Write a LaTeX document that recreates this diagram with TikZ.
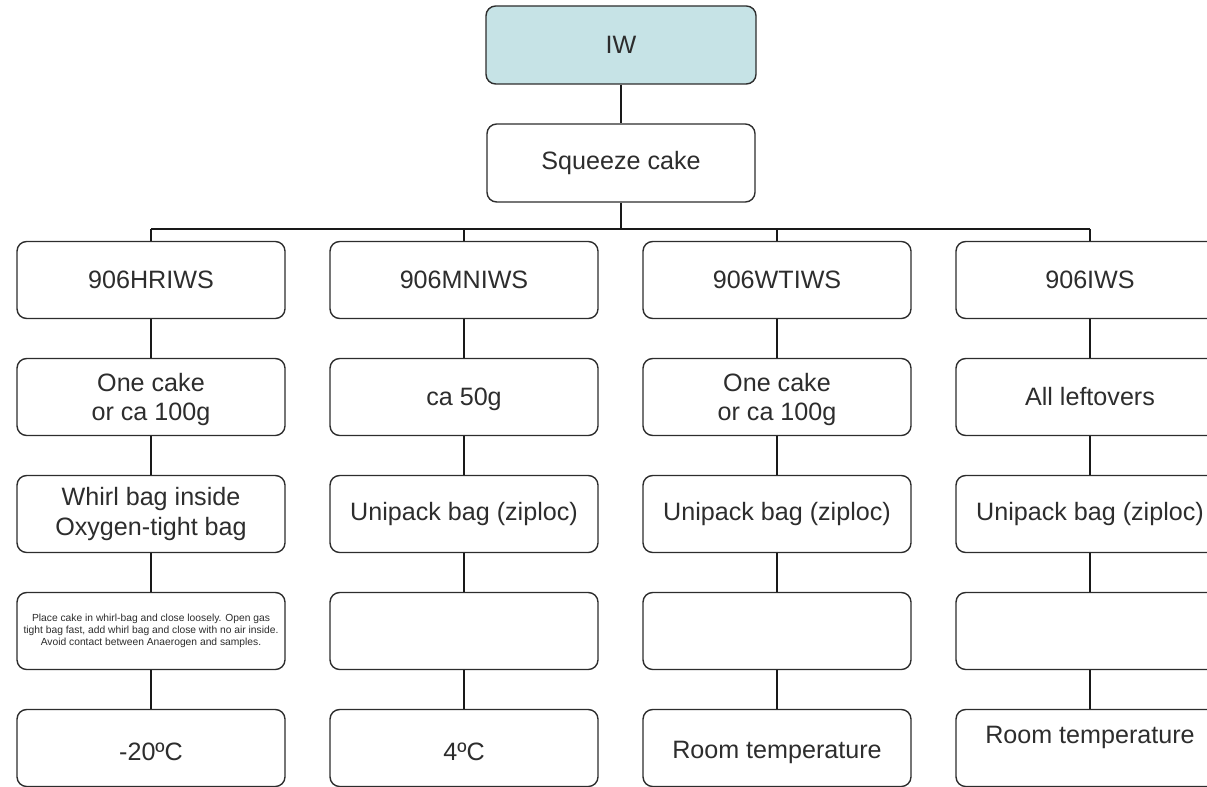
\documentclass[tikz,border=0pt]{standalone}
\usepackage{fontspec}
\setmainfont{Liberation Sans}
\definecolor{iwteal}{RGB}{198,227,230}
\definecolor{inkgray}{RGB}{45,45,45}
\tikzset{
  box/.style={draw=inkgray, line width=0.8pt, rounded corners=5.5pt, fill=white, text=inkgray,
    minimum width=5.36cm, minimum height=1.54cm, inner sep=1pt, align=center,
    font=\fontsize{14.3}{17}\selectfont},
  link/.style={line width=1.1pt, black!90}
}
\begin{document}
\begin{tikzpicture}[line join=round]
  \useasboundingbox (0,0) rectangle (24.14,-15.74);
  \clip (0,0) rectangle (24.14,-15.74);
  \node[box, fill=iwteal, minimum width=5.4cm, minimum height=1.56cm] (iw) at (12.42,-0.9) {IW};
  \node[box, minimum width=5.36cm, minimum height=1.56cm] (squeeze) at (12.42,-3.26) {Squeeze cake};
  \coordinate (bus) at (12.42,-4.58);
  \foreach \c/\head/\qty/\pack/\temp in {
    1/{906HRIWS}/{One cake\\or ca 100g}/{Whirl bag inside\\Oxygen-tight bag}/{-20ºC},
    2/{906MNIWS}/{ca 50g}/{Unipack bag (ziploc)}/{4ºC},
    3/{906WTIWS}/{One cake\\or ca 100g}/{Unipack bag (ziploc)}/{Room temperature},
    4/{906IWS}/{All leftovers}/{Unipack bag (ziploc)}/{Room temperature}} {
    \pgfmathsetmacro{\x}{3.02+6.26*(\c-1)}
    \def\note{}
    \def\notefont{\fontsize{14.3}{17}\selectfont}
    \ifnum\c=1
    \def\note{Place cake in whirl-bag and close loosely. Open gas\\tight bag fast, add whirl bag and close with no air inside.\\Avoid contact between Anaerogen and samples.}
    \def\notefont{\fontsize{5.85}{6.65}\selectfont}
    \fi
    \def\lift{-0.08cm}
    \ifnum\c=4 \def\lift{0.22cm} \fi
    \node[box] (c\c-1) at (\x,-5.6) {\head};
    \node[box] (c\c-2) at (\x,-7.94) {\raisebox{-0.06cm}[\height][\depth]{\begin{tabular}{@{}c@{}}\qty\end{tabular}}};
    \node[box] (c\c-3) at (\x,-10.28) {\pack};
    \node[box, font=\notefont] (c\c-4) at (\x,-12.62) {\note};
    \node[box] (c\c-5) at (\x,-14.96) {\raisebox{\lift}[\height][\depth]{\temp}};
    % column links
    \draw[link] (c\c-1.north |- bus) -- (c\c-1.north);
    \foreach \r/\s in {1/2,2/3,3/4,4/5} {
      \draw[link] (c\c-\r.south) -- (c\c-\s.north);
    }
  }
  \draw[link] (iw.south) -- (squeeze.north);
  \draw[link] (squeeze.south) -- (bus);
  \draw[link] (c1-1.north |- bus) -- (c4-1.north |- bus);
\end{tikzpicture}
\end{document}
